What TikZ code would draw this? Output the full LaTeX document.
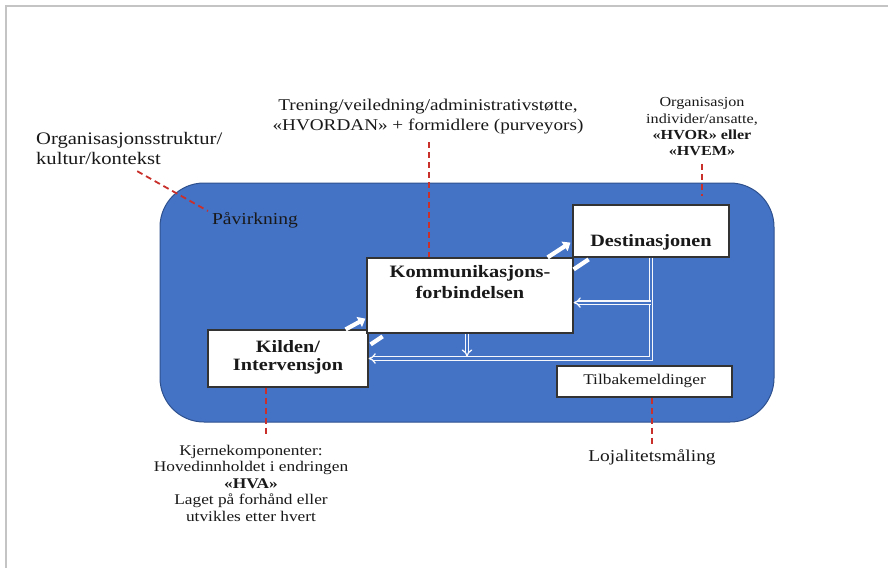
\documentclass[tikz,border=0pt]{standalone}
\usepackage{fontspec}
\setmainfont{Liberation Serif}
\usepackage{graphicx}
\usetikzlibrary{arrows.meta,calc}
\definecolor{mainblue}{HTML}{4472C4}
\definecolor{edgeblue}{HTML}{2F528F}
\definecolor{dashred}{HTML}{C9302C}
\definecolor{framegray}{HTML}{C4C4C4}
\newcommand{\sxc}[1]{\scalebox{1.17}[1]{\begin{tabular}{@{}c@{}}#1\end{tabular}}}
\newcommand{\sxl}[1]{\scalebox{1.17}[1]{\begin{tabular}{@{}l@{}}#1\end{tabular}}}
\begin{document}
\begin{tikzpicture}[x=1pt,y=-1pt,
  whitebox/.style={draw=black!80, fill=white, line width=1.2pt, inner sep=0pt},
  plain/.style={inner sep=0pt, text=black!90},
  boldtxt/.style={inner sep=0pt, text=black!90, font=\fontsize{17.3}{18}\selectfont\bfseries},
  reddash/.style={draw=dashred, line width=1.8pt, dash pattern=on 6pt off 4pt},
  wharrow/.style={draw=white, line width=4.2pt, -{Triangle[length=7pt,width=11pt]}},
  whseg/.style={draw=white, line width=4.2pt},
  dbl/.style={draw=white!95!mainblue, double=mainblue, line width=1.3pt, double distance=2.2pt, -{Implies}}
]
\useasboundingbox (0,0) rectangle (888,568);
\fill[white] (0,0) rectangle (888,568);
% page frame
\draw[framegray, line width=1.6pt] (6,568) -- (6,6) -- (888,6);
% background rounded panel
\draw[fill=mainblue, draw=edgeblue, line width=1pt, rounded corners=44pt] (160,183) rectangle (774,422);

% boxes
\node[whitebox, minimum width=160pt, minimum height=57pt] (kilden) at (288,358.5) {};
\node[boldtxt] (kildentxt) at (288,357.5) {\sxc{Kilden/\\Intervensjon}};
\node[whitebox, minimum width=206pt, minimum height=75pt] (komm) at (470,295.5) {};
\node[boldtxt, font=\fontsize{17.4}{21}\selectfont\bfseries] (kommtxt) at (470,283.5) {\sxc{Kommunikasjons-\\forbindelsen}};
\node[whitebox, minimum width=156pt, minimum height=52pt] (dest) at (651,231) {};
\node[boldtxt] (desttxt) at (651,243) {\sxc{Destinasjonen}};
\node[whitebox, minimum width=175pt, minimum height=31pt, font=\fontsize{14.8}{17}\selectfont, text=black!90] (tilb) at (644.5,381.5) {\sxc{Tilbakemeldinger}};

% texts
\node[plain, anchor=west, font=\fontsize{17.6}{20}\selectfont] (org) at (36,150) {\sxl{Organisasjonsstruktur/\\kultur/kontekst}};
\node[plain, font=\fontsize{16.4}{20}\selectfont] (trn) at (428,116) {\sxc{Trening/veiledning/administrativstøtte,\\«HVORDAN» + formidlere (purveyors)}};
\node[plain, font=\fontsize{13.8}{16.3}\selectfont] (who) at (702,128) {\sxc{Organisasjon\\individer/ansatte,\\\textbf{«HVOR» eller}\\\textbf{«HVEM»}}};
\node[plain, font=\fontsize{16.7}{20}\selectfont] (pav) at (255,220) {\sxc{Påvirkning}};
\node[plain, font=\fontsize{14.8}{16.5}\selectfont] (kjerne) at (251,485) {\sxc{Kjernekomponenter:\\Hovedinnholdet i endringen\\\textbf{«HVA»}\\Laget på forhånd eller\\utvikles etter hvert}};
\node[plain, font=\fontsize{16.6}{20}\selectfont] (loj) at (652,457) {\sxc{Lojalitetsmåling}};

% red dashed connectors
\draw[reddash] ($(org.south)+(8,1)$) -- ($(pav.west)+(-4,-9)$);
\coordinate (trnstart) at ($(trn.south)+(1,6)$);
\draw[reddash] (trnstart) -- (trnstart |- komm.north);
\coordinate (whoend) at ($(who.south)+(0,35)$);
\draw[reddash] ($(who.south)+(0,3)$) -- (whoend);
\coordinate (kjtop) at ($(kjerne.north)+(15,-6)$);
\draw[reddash] (kjtop |- kilden.south) -- (kjtop);
\draw[reddash] (loj.north |- tilb.south) -- ($(loj.north)+(0,-3)$);

% white flow arrows
\draw[wharrow] ($(kilden.north east)+(-23,0)$) -- ($(komm.south west)+(-1,-15)$);
\draw[whseg] ($(kilden.north east)+(2,15)$) -- ($(kilden.north east)+(14,7)$);
\draw[wharrow] ($(komm.north east)+(-26,0)$) -- ($(dest.south west)+(-2,-15)$);
\draw[whseg] ($(komm.north east)+(0,12)$) -- ($(komm.north east)+(15,2)$);

% feedback double lines
\coordinate (br) at ($(dest.south)+(0,45)$);
\draw[dbl] (dest.south) |- (kilden.east);
\draw[dbl] (br) -- (br -| komm.east);
\draw[dbl] ($(komm.south)+(-3,0)$) -- ++(0,23);
\end{tikzpicture}
\end{document}
